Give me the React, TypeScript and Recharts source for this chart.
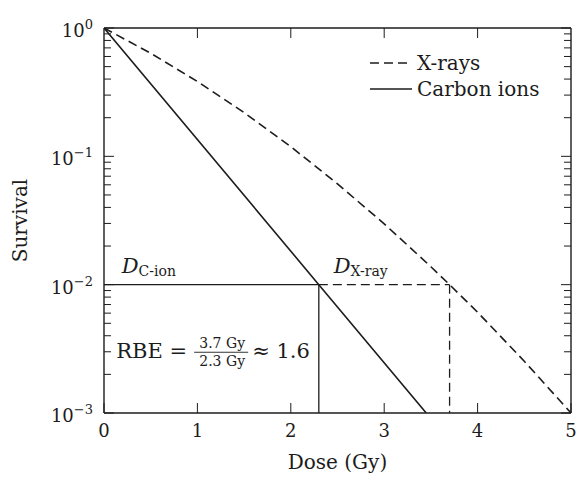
import React from 'react';
import { LineChart, Line, XAxis, YAxis, ReferenceLine, ReferenceDot, Legend, Label } from 'recharts';

// ---- data ----
const xrayDose = [0, 0.5, 1, 1.5, 2, 2.5, 3, 3.5, 3.7, 4, 4.5, 5];
const xraySurvival = [1, 0.636, 0.383, 0.219, 0.119, 0.061, 0.0298, 0.0138, 0.01, 0.0061, 0.00253, 0.001];
const carbonDose = [0, 2.3, 3.45];
const carbonSurvival = [1, 0.01, 0.001];

const doseTicks = [0, 1, 2, 3, 4, 5];
const survivalTicks = [
  0.001, 0.002, 0.003, 0.004, 0.005, 0.006, 0.007, 0.008, 0.009,
  0.01, 0.02, 0.03, 0.04, 0.05, 0.06, 0.07, 0.08, 0.09,
  0.1, 0.2, 0.3, 0.4, 0.5, 0.6, 0.7, 0.8, 0.9,
  1,
];
const decadeExponents = ['0', '\u22121', '\u22122', '\u22123'];
const seriesNames = ['X-rays', 'Carbon ions'];

const cutoffSurvival = 0.01;
const carbonDoseAtCutoff = 2.3;
const xrayDoseAtCutoff = 3.7;
const rbeNumerator = '3.7 Gy';
const rbeDenominator = '2.3 Gy';
const rbeValue = '1.6';

const xrayData = xrayDose.map((d, i) => ({ dose: d, survival: xraySurvival[i] }));
const carbonData = carbonDose.map((d, i) => ({ dose: d, survival: carbonSurvival[i] }));

// ---- layout / style ----
const W = 579;
const H = 481;
const PLOT = { left: 104, right: 571, top: 28, bottom: 413 };
const FONT = "'DejaVu Serif', serif";
const INK = '#1c1c1c';
const DASH = '9 5';
const seriesDash = [DASH, undefined];

const isDecade = (v: number) => Math.abs(Math.log10(v) - Math.round(Math.log10(v))) < 1e-6;

const YLeftTick = (props: any) => {
  const { y, payload } = props;
  const v = payload.value as number;
  const major = isDecade(v);
  const exp = decadeExponents[Math.round(-Math.log10(v))];
  return (
    <g>
      <line x1={PLOT.left} x2={PLOT.left + (major ? 10 : 7)} y1={y} y2={y} stroke={INK} strokeWidth={1} />
      {major && (
        <text x={93} y={y + 9} textAnchor="end" fontFamily={FONT} fontSize={18} fill={INK}>
          10<tspan dy={-8} fontSize={13}>{exp}</tspan>
        </text>
      )}
    </g>
  );
};

const YRightTick = (props: any) => {
  const { y, payload } = props;
  const major = isDecade(payload.value);
  return <line x1={PLOT.right} x2={PLOT.right - (major ? 10 : 7)} y1={y} y2={y} stroke={INK} strokeWidth={1} />;
};

const XBottomTick = (props: any) => {
  const { x, payload } = props;
  return (
    <g>
      <line x1={x} x2={x} y1={PLOT.bottom} y2={PLOT.bottom - 10} stroke={INK} strokeWidth={1} />
      <text x={x} y={437} textAnchor="middle" fontFamily={FONT} fontSize={18} fill={INK}>
        {payload.value}
      </text>
    </g>
  );
};

const XTopTick = (props: any) => {
  const { x } = props;
  return <line x1={x} x2={x} y1={PLOT.top} y2={PLOT.top + 10} stroke={INK} strokeWidth={1} />;
};

const XLabel = () => (
  <text x={(PLOT.left + PLOT.right) / 2} y={469} textAnchor="middle" fontFamily={FONT} fontSize={20} fill={INK}>
    Dose (Gy)
  </text>
);

const YLabel = () => {
  const cx = 27;
  const cy = (PLOT.top + PLOT.bottom) / 2;
  return (
    <text x={cx} y={cy} transform={`rotate(-90, ${cx}, ${cy})`} textAnchor="middle" fontFamily={FONT} fontSize={20} fill={INK}>
      Survival
    </text>
  );
};

const DLabel = (sub: string) => (props: any) => {
  const { viewBox } = props;
  const x = viewBox.x;
  const y = viewBox.y;
  return (
    <text x={x} y={y - 12} fontFamily={FONT} fill={INK} fontSize={21}>
      <tspan fontStyle="italic">D</tspan>
      <tspan fontSize={14} dy={3}>{sub}</tspan>
    </text>
  );
};

const RbeLabel = (props: any) => {
  const { viewBox } = props;
  const x = viewBox.x;
  const y = viewBox.y;
  return (
    <g fontFamily={FONT} fill={INK}>
      <text x={x} y={y + 8} fontSize={21}>RBE =</text>
      <text x={x + 106} y={y - 2} fontSize={14} textAnchor="middle">{rbeNumerator}</text>
      <line x1={x + 78} x2={x + 132} y1={y + 2.5} y2={y + 2.5} stroke={INK} strokeWidth={0.9} />
      <text x={x + 106} y={y + 16} fontSize={14} textAnchor="middle">{rbeDenominator}</text>
      <text x={x + 136} y={y + 8} fontSize={21}>{'\u2248 ' + rbeValue}</text>
    </g>
  );
};

const LegendContent = (props: any) => {
  const payload = [...(props.payload || [])].sort(
    (a: any, b: any) => seriesNames.indexOf(a.value) - seriesNames.indexOf(b.value)
  );
  return (
    <svg width={200} height={56} style={{ display: 'block' }}>
      {payload.map((e: any, i: number) => {
        const dash = seriesDash[seriesNames.indexOf(e.value)];
        return (
          <g key={e.value}>
            <line x1={4} x2={dash ? 41 : 46} y1={13 + 26 * i} y2={13 + 26 * i} stroke={INK} strokeWidth={1.6} strokeDasharray={dash} />
            <text x={51} y={20 + 26 * i} fontFamily={FONT} fontSize={20} fill={INK}>
              {e.value}
            </text>
          </g>
        );
      })}
    </svg>
  );
};

export default function App() {
  return (
    <div style={{ position: 'absolute', left: 0, top: 0, width: W, height: H, background: '#fff' }}>
      <LineChart width={W} height={H} margin={{ top: 0, right: 0, bottom: 0, left: 0 }}>
        <XAxis
          xAxisId="b"
          type="number"
          dataKey="dose"
          domain={[0, 5]}
          ticks={doseTicks}
          allowDataOverflow
          height={H - PLOT.bottom}
          tickLine={false}
          axisLine={{ stroke: INK, strokeWidth: 1.4 }}
          tick={<XBottomTick />}
          interval={0}
        >
          <Label content={<XLabel />} />
        </XAxis>
        <XAxis
          xAxisId="t"
          orientation="top"
          type="number"
          dataKey="dose"
          domain={[0, 5]}
          ticks={doseTicks.slice(1, -1)}
          allowDataOverflow
          height={PLOT.top}
          tickLine={false}
          axisLine={{ stroke: INK, strokeWidth: 1.4 }}
          tick={<XTopTick />}
          interval={0}
        />
        <YAxis
          yAxisId="l"
          type="number"
          scale="log"
          dataKey="survival"
          domain={[0.001, 1]}
          ticks={survivalTicks}
          allowDataOverflow
          width={PLOT.left}
          tickLine={false}
          axisLine={{ stroke: INK, strokeWidth: 1.4 }}
          tick={<YLeftTick />}
          interval={0}
        >
          <Label content={<YLabel />} />
        </YAxis>
        <YAxis
          yAxisId="r"
          orientation="right"
          type="number"
          scale="log"
          dataKey="survival"
          domain={[0.001, 1]}
          ticks={survivalTicks}
          allowDataOverflow
          width={W - PLOT.right}
          tickLine={false}
          axisLine={{ stroke: INK, strokeWidth: 1.4 }}
          tick={<YRightTick />}
          interval={0}
        />

        <ReferenceLine
          xAxisId="b"
          yAxisId="l"
          segment={[{ x: 0, y: cutoffSurvival }, { x: carbonDoseAtCutoff, y: cutoffSurvival }]}
          stroke={INK}
          strokeWidth={1.3}
        />
        <ReferenceLine
          xAxisId="b"
          yAxisId="l"
          segment={[{ x: carbonDoseAtCutoff, y: 0.001 }, { x: carbonDoseAtCutoff, y: cutoffSurvival }]}
          stroke={INK}
          strokeWidth={1.3}
        />
        <ReferenceLine
          xAxisId="b"
          yAxisId="l"
          segment={[{ x: carbonDoseAtCutoff, y: cutoffSurvival }, { x: xrayDoseAtCutoff, y: cutoffSurvival }]}
          stroke={INK}
          strokeWidth={1.3}
          strokeDasharray={DASH}
        />
        <ReferenceLine
          xAxisId="b"
          yAxisId="l"
          segment={[{ x: xrayDoseAtCutoff, y: cutoffSurvival }, { x: xrayDoseAtCutoff, y: 0.001 }]}
          stroke={INK}
          strokeWidth={1.3}
          strokeDasharray={DASH}
        />

        <Line
          xAxisId="b"
          yAxisId="l"
          data={xrayData}
          dataKey="survival"
          name={seriesNames[0]}
          type="linear"
          stroke={INK}
          strokeWidth={1.6}
          strokeDasharray={DASH}
          dot={false}
          activeDot={false}
          isAnimationActive={false}
        />
        <Line
          xAxisId="b"
          yAxisId="l"
          data={carbonData}
          dataKey="survival"
          name={seriesNames[1]}
          type="linear"
          stroke={INK}
          strokeWidth={1.6}
          dot={false}
          activeDot={false}
          isAnimationActive={false}
        />

        <ReferenceDot xAxisId="b" yAxisId="l" x={0.19} y={cutoffSurvival} r={0} fill="none" stroke="none" label={DLabel('C-ion')} />
        <ReferenceDot xAxisId="b" yAxisId="l" x={2.46} y={cutoffSurvival} r={0} fill="none" stroke="none" label={DLabel('X-ray')} />
        <ReferenceDot xAxisId="b" yAxisId="l" x={0.13} y={0.00311} r={0} fill="none" stroke="none" label={RbeLabel} />

        <Legend
          layout="vertical"
          align="center"
          verticalAlign="middle"
          content={<LegendContent />}
          wrapperStyle={{ left: 366, top: 50, width: 200, height: 56 }}
        />
      </LineChart>
    </div>
  );
}
